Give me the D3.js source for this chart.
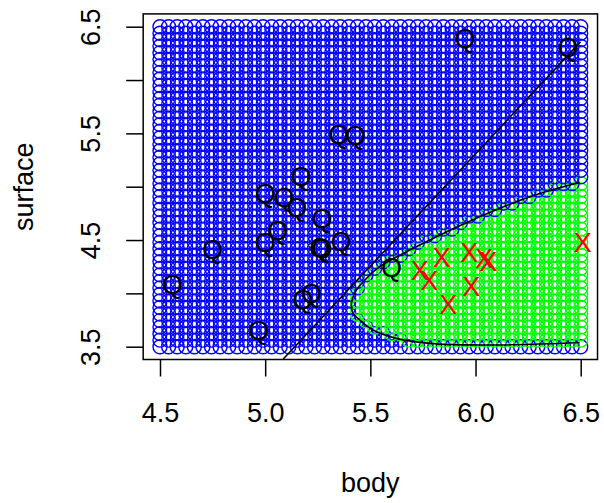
<!DOCTYPE html>
<html>
<head>
<meta charset="utf-8">
<script src="https://cdn.jsdelivr.net/npm/d3@7"></script>
<style>
  body { margin: 0; background: #fff; }
  svg { display: block; font-family: "Liberation Sans", Arial, sans-serif; }
</style>
</head>
<body>
<div id="chart"></div>
<script>
// axis ticks
const xTicks = [4.5, 5.0, 5.5, 6.0, 6.5];
const yTicks = [3.5, 4.0, 4.5, 5.0, 5.5, 6.0, 6.5];
const yLabelTicks = [3.5, 4.5, 5.5, 6.5];

// prediction grid (seq(4.5, 6.5, len = 50) x seq(3.5, 6.5, len = 50))
const gridN = 50;
const gridBody = d3.range(gridN).map(i => 4.5 + i * 2 / (gridN - 1));
const gridSurface = d3.range(gridN).map(j => 3.5 + j * 3 / (gridN - 1));

// class "Q" observations
const qBody = [4.56, 4.75, 4.97, 5.00, 5.00, 5.06, 5.09, 5.15, 5.17, 5.18, 5.22, 5.27, 5.26, 5.27, 5.35, 5.36, 5.43, 5.60, 5.95, 6.44];
const qSurface = [4.08, 4.41, 3.65, 4.94, 4.48, 4.59, 4.90, 4.81, 5.10, 3.94, 4.00, 4.70, 4.43, 4.42, 5.49, 4.49, 5.48, 4.24, 6.39, 6.31];

// class "X" observations
const xBody = [5.735, 5.78, 5.84, 5.87, 5.97, 5.98, 6.04, 6.06, 6.51];
const xSurface = [4.22, 4.12, 4.34, 3.90, 4.38, 4.07, 4.33, 4.30, 4.48];

// quadratic decision boundary
const boundaryBody = [6.495, 6.258, 6.02, 5.783, 5.545, 5.482, 5.434, 5.41, 5.418, 5.45, 5.513, 5.624, 5.783, 6.02, 6.495];
const boundarySurface = [5.04, 4.906, 4.718, 4.50, 4.25, 4.141, 4.031, 3.907, 3.813, 3.75, 3.657, 3.578, 3.531, 3.516, 3.537];

// linear decision boundary
const lineBody = [5.086, 6.499];
const lineSurface = [3.385, 6.358];

const width = 604, height = 503;
const fs = 27;
const ptSize = 27;

const x = d3.scaleLinear().domain([4.5, 6.5]).range([160, 580.7]);
const y = d3.scaleLinear().domain([3.5, 6.5]).range([346.7, 26.7]);

const svg = d3.create("svg")
  .attr("width", width)
  .attr("height", height)
  .attr("viewBox", [0, 0, width, height]);

svg.append("rect").attr("width", width).attr("height", height).attr("fill", "#fff");

// which grid points fall on the "X" side of the curved boundary
const region = boundaryBody.map((b, i) => [b, boundarySurface[i]]);
region.push([6.7, boundarySurface[boundarySurface.length - 1]]);
region.push([6.7, boundarySurface[0]]);

const gridPts = [];
gridSurface.forEach(s => {
  gridBody.forEach(b => {
    gridPts.push({ b, s, green: d3.polygonContains(region, [b, s]) });
  });
});

svg.append("g")
  .selectAll("circle")
  .data(gridPts)
  .join("circle")
  .attr("cx", d => x(d.b))
  .attr("cy", d => y(d.s))
  .attr("r", 7)
  .attr("fill", "none")
  .attr("stroke", d => d.green ? "#00ff00" : "#0000ff")
  .attr("stroke-width", 1.4);

// curved boundary
const curve = d3.line()
  .x(d => x(d[0]))
  .y(d => y(d[1]))
  .curve(d3.curveCatmullRom);

svg.append("path")
  .attr("d", curve(boundaryBody.map((b, i) => [b, boundarySurface[i]])))
  .attr("fill", "none")
  .attr("stroke", "#000")
  .attr("stroke-width", 1.6);

svg.append("path")
  .attr("d", d3.line().x(d => x(d[0])).y(d => y(d[1]))(lineBody.map((b, i) => [b, lineSurface[i]])))
  .attr("fill", "none")
  .attr("stroke", "#000")
  .attr("stroke-width", 1.6);

// observations
svg.append("g")
  .selectAll("text")
  .data(qBody.map((b, i) => [b, qSurface[i]]))
  .join("text")
  .attr("x", d => x(d[0]))
  .attr("y", d => y(d[1]) + 0.358 * ptSize)
  .attr("text-anchor", "middle")
  .attr("font-size", ptSize)
  .attr("fill", "#000")
  .text("Q");

svg.append("g")
  .selectAll("text")
  .data(xBody.map((b, i) => [b, xSurface[i]]))
  .join("text")
  .attr("x", d => x(d[0]))
  .attr("y", d => y(d[1]) + 0.358 * ptSize)
  .attr("text-anchor", "middle")
  .attr("font-size", ptSize)
  .attr("fill", "#ff0000")
  .text("X");

// plot box
const boxL = x(4.42), boxR = x(6.58), boxT = y(6.62), boxB = y(3.38);
svg.append("rect")
  .attr("x", boxL).attr("y", boxT)
  .attr("width", boxR - boxL).attr("height", boxB - boxT)
  .attr("fill", "none")
  .attr("stroke", "#000")
  .attr("stroke-width", 1.5);

// axes
const xAxis = svg.append("g")
  .attr("transform", `translate(0,${boxB})`)
  .call(d3.axisBottom(x).tickValues(xTicks).tickSize(17).tickFormat(d3.format(".1f")));
xAxis.select(".domain").remove();
xAxis.selectAll("line").attr("stroke-width", 1.5);
xAxis.selectAll("text")
  .attr("y", 62)
  .attr("dy", null)
  .attr("font-size", fs)
  .attr("font-family", "Liberation Sans, Arial, sans-serif")
  .attr("fill", "#000");

const yAxis = svg.append("g")
  .attr("transform", `translate(${boxL},0)`)
  .call(d3.axisLeft(y).tickValues(yTicks).tickSize(17)
    .tickFormat(d => yLabelTicks.includes(d) ? d3.format(".1f")(d) : ""));
yAxis.select(".domain").remove();
yAxis.selectAll("line").attr("stroke-width", 1.5);
yAxis.selectAll("text")
  .attr("x", null)
  .attr("dy", null)
  .attr("text-anchor", "middle")
  .attr("transform", `translate(${99.7 - boxL},0) rotate(-90)`)
  .attr("font-size", fs)
  .attr("font-family", "Liberation Sans, Arial, sans-serif")
  .attr("fill", "#000");

// axis titles
svg.append("text")
  .attr("x", (boxL + boxR) / 2)
  .attr("y", 492)
  .attr("text-anchor", "middle")
  .attr("font-size", fs)
  .text("body");

svg.append("text")
  .attr("transform", `translate(33,${(boxT + boxB) / 2}) rotate(-90)`)
  .attr("text-anchor", "middle")
  .attr("font-size", fs)
  .text("surface");

document.getElementById("chart").appendChild(svg.node());
</script>
</body>
</html>
